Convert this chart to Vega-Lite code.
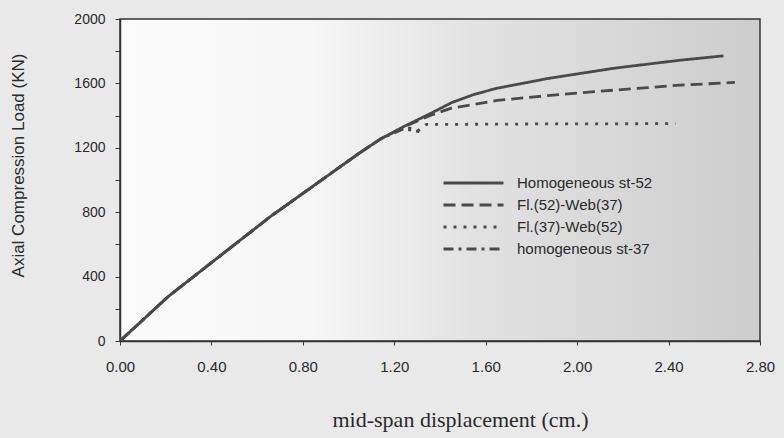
{
  "$schema": "https://vega.github.io/schema/vega-lite/v6.json",
  "width": 640,
  "height": 322,
  "autosize": "none",
  "padding": {"left": 120, "top": 19, "right": 24, "bottom": 97},
  "background": "#e9e9e9",
  "view": {
    "stroke": "#333333",
    "strokeWidth": 1.5,
    "fill": {"gradient": "linear", "x1": 0, "x2": 1, "y1": 0, "y2": 0,
      "stops": [{"offset": 0, "color": "#fbfbfb"}, {"offset": 0.3, "color": "#f6f6f6"}, {"offset": 0.55, "color": "#e2e2e2"}, {"offset": 1, "color": "#cdcdcd"}]}
  },
  "data": {
    "values": [
      {"s": "Homogeneous st-52", "x": 0, "y": 0},
      {"s": "Homogeneous st-52", "x": 0.21, "y": 275},
      {"s": "Homogeneous st-52", "x": 0.43, "y": 520},
      {"s": "Homogeneous st-52", "x": 0.66, "y": 775},
      {"s": "Homogeneous st-52", "x": 0.84, "y": 957},
      {"s": "Homogeneous st-52", "x": 1.04, "y": 1160},
      {"s": "Homogeneous st-52", "x": 1.14, "y": 1255},
      {"s": "Homogeneous st-52", "x": 1.25, "y": 1338},
      {"s": "Homogeneous st-52", "x": 1.36, "y": 1414},
      {"s": "Homogeneous st-52", "x": 1.45, "y": 1480},
      {"s": "Homogeneous st-52", "x": 1.55, "y": 1532},
      {"s": "Homogeneous st-52", "x": 1.65, "y": 1570},
      {"s": "Homogeneous st-52", "x": 1.87, "y": 1630},
      {"s": "Homogeneous st-52", "x": 2.16, "y": 1694},
      {"s": "Homogeneous st-52", "x": 2.45, "y": 1744},
      {"s": "Homogeneous st-52", "x": 2.64, "y": 1771},
      {"s": "Fl.(52)-Web(37)", "x": 0, "y": 0},
      {"s": "Fl.(52)-Web(37)", "x": 0.21, "y": 275},
      {"s": "Fl.(52)-Web(37)", "x": 0.43, "y": 520},
      {"s": "Fl.(52)-Web(37)", "x": 0.66, "y": 775},
      {"s": "Fl.(52)-Web(37)", "x": 0.84, "y": 957},
      {"s": "Fl.(52)-Web(37)", "x": 1.04, "y": 1160},
      {"s": "Fl.(52)-Web(37)", "x": 1.14, "y": 1255},
      {"s": "Fl.(52)-Web(37)", "x": 1.25, "y": 1335},
      {"s": "Fl.(52)-Web(37)", "x": 1.36, "y": 1402},
      {"s": "Fl.(52)-Web(37)", "x": 1.45, "y": 1446},
      {"s": "Fl.(52)-Web(37)", "x": 1.65, "y": 1494},
      {"s": "Fl.(52)-Web(37)", "x": 1.87, "y": 1524},
      {"s": "Fl.(52)-Web(37)", "x": 2.16, "y": 1558},
      {"s": "Fl.(52)-Web(37)", "x": 2.45, "y": 1589},
      {"s": "Fl.(52)-Web(37)", "x": 2.69, "y": 1606},
      {"s": "Fl.(37)-Web(52)", "x": 0, "y": 0},
      {"s": "Fl.(37)-Web(52)", "x": 0.21, "y": 275},
      {"s": "Fl.(37)-Web(52)", "x": 0.43, "y": 520},
      {"s": "Fl.(37)-Web(52)", "x": 0.66, "y": 775},
      {"s": "Fl.(37)-Web(52)", "x": 0.84, "y": 957},
      {"s": "Fl.(37)-Web(52)", "x": 1.04, "y": 1160},
      {"s": "Fl.(37)-Web(52)", "x": 1.14, "y": 1255},
      {"s": "Fl.(37)-Web(52)", "x": 1.22, "y": 1312},
      {"s": "Fl.(37)-Web(52)", "x": 1.27, "y": 1322},
      {"s": "Fl.(37)-Web(52)", "x": 1.30, "y": 1302},
      {"s": "Fl.(37)-Web(52)", "x": 1.34, "y": 1345},
      {"s": "Fl.(37)-Web(52)", "x": 1.80, "y": 1348},
      {"s": "Fl.(37)-Web(52)", "x": 2.43, "y": 1350},
      {"s": "homogeneous st-37", "x": 0, "y": 0},
      {"s": "homogeneous st-37", "x": 0.21, "y": 275},
      {"s": "homogeneous st-37", "x": 0.43, "y": 520},
      {"s": "homogeneous st-37", "x": 0.66, "y": 775},
      {"s": "homogeneous st-37", "x": 0.84, "y": 957},
      {"s": "homogeneous st-37", "x": 1.04, "y": 1160},
      {"s": "homogeneous st-37", "x": 1.14, "y": 1255},
      {"s": "homogeneous st-37", "x": 1.24, "y": 1318},
      {"s": "homogeneous st-37", "x": 1.31, "y": 1300}
    ]
  },
  "mark": {"type": "line", "color": "#4a4a4a", "strokeWidth": 2.8, "clip": true},
  "encoding": {
    "x": {
      "field": "x", "type": "quantitative",
      "scale": {"domain": [0, 2.8], "nice": false, "zero": false},
      "axis": {
        "values": [0, 0.4, 0.8, 1.2, 1.6, 2.0, 2.4, 2.8],
        "format": ".2f",
        "grid": false,
        "tickSize": 4,
        "labelPadding": 14,
        "labelDx": 4,
        "labelFontSize": 15,
        "labelFont": "Liberation Sans",
        "labelColor": "#2a2a2a",
        "domainColor": "#333333",
        "domainWidth": 1.5,
        "tickColor": "#333333",
        "labelFlush": false,
        "labelOverlap": false,
        "title": "mid-span displacement (cm.)",
        "titleFont": "Liberation Serif",
        "titleFontSize": 22,
        "titleFontWeight": "normal",
        "titleColor": "#2a2a2a",
        "titleAlign": "left",
        "titleAnchor": "start",
        "titleX": 212,
        "titleY": 85,
        "titleBaseline": "alphabetic"
      }
    },
    "y": {
      "field": "y", "type": "quantitative",
      "scale": {"domain": [0, 2000], "nice": false},
      "axis": {
        "values": [0, 200, 400, 600, 800, 1000, 1200, 1400, 1600, 1800, 2000],
        "labelExpr": "datum.value % 400 == 0 ? datum.label : ''",
        "format": "d",
        "grid": false,
        "tickSize": 5,
        "labelPadding": 10,
        "labelFontSize": 14,
        "labelFont": "Liberation Sans",
        "labelColor": "#2a2a2a",
        "domainColor": "#333333",
        "domainWidth": 1.5,
        "tickColor": "#333333",
        "labelFlush": false,
        "labelOverlap": false,
        "title": "Axial Compression Load (KN)",
        "titleFont": "Liberation Sans",
        "titleFontSize": 17,
        "titleFontWeight": "normal",
        "titleColor": "#2a2a2a",
        "titleAngle": -90,
        "titleAlign": "center",
        "titleBaseline": "middle",
        "titleX": -102,
        "titleY": 146
      }
    },
    "strokeDash": {
      "field": "s", "type": "nominal",
      "scale": {
        "domain": ["Homogeneous st-52", "Fl.(52)-Web(37)", "Fl.(37)-Web(52)", "homogeneous st-37"],
        "range": [[1, 0], [12, 6], [3, 7], [10, 5, 3, 5]]
      },
      "legend": {
        "title": null,
        "orient": "none",
        "legendX": 322,
        "legendY": 153,
        "symbolType": "stroke",
        "symbolSize": 3600,
        "symbolStrokeWidth": 2.8,
        "symbolStrokeColor": "#4a4a4a",
        "clipHeight": 22,
        "labelFont": "Liberation Sans",
        "labelFontSize": 15,
        "labelColor": "#2a2a2a",
        "labelOffset": 12,
        "rowPadding": 0,
        "labelLimit": 300
      }
    }
  }
}
